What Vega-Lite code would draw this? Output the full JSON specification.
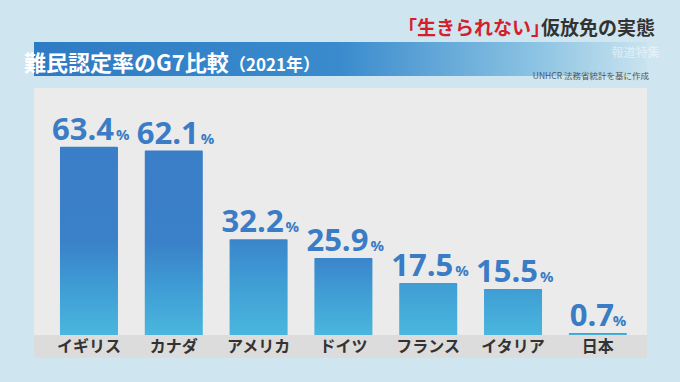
{
  "$schema": "https://vega.github.io/schema/vega-lite/v6.json",
  "width": 613,
  "height": 270,
  "autosize": {"type": "none"},
  "padding": {"left": 34, "top": 88, "right": 33, "bottom": 24},
  "background": "#cfe5ef",
  "config": {"view": {"fill": "#ebebeb", "stroke": null}},
  "data": {
    "values": [
      {"country": "イギリス", "rate": 63.4},
      {"country": "カナダ", "rate": 62.1},
      {"country": "アメリカ", "rate": 32.2},
      {"country": "ドイツ", "rate": 25.9},
      {"country": "フランス", "rate": 17.5},
      {"country": "イタリア", "rate": 15.5},
      {"country": "日本", "rate": 0.7}
    ]
  },
  "encoding": {
    "x": {
      "field": "country", "type": "nominal", "sort": null, "axis": null,
      "scale": {"type": "band", "paddingInner": 0.316, "paddingOuter": 0.272, "align": 0.563}
    },
    "y": {
      "field": "rate", "type": "quantitative", "axis": null,
      "scale": {"domain": [-7.74, 83.16], "nice": false, "zero": false}
    }
  },
  "layer": [
    {
      "mark": {"type": "rect", "color": "#dcdcdc"},
      "encoding": {
        "x": null,
        "y": {"datum": -7.74},
        "y2": {"datum": 0}
      }
    },
    {
      "transform": [{"filter": "datum.rate > 63"}],
      "mark": {
        "type": "rect",
        "color": {
          "gradient": "linear", "x1": 0, "y1": 0, "x2": 1, "y2": 0,
          "stops": [
            {"offset": 0, "color": "#2e7bc4"},
            {"offset": 0.5, "color": "#3a8bcd"},
            {"offset": 0.8, "color": "#86c0e2"},
            {"offset": 1, "color": "#c9e3ef"}
          ]
        }
      },
      "encoding": {
        "x": null,
        "y": {"datum": 98.65},
        "y2": {"datum": 87.2}
      }
    },
    {
      "transform": [{"filter": "datum.rate >= 40"}],
      "mark": {
        "type": "bar", "cornerRadiusTopLeft": 1, "cornerRadiusTopRight": 1,
        "color": {
          "gradient": "linear", "x1": 0, "y1": 0, "x2": 0, "y2": 1,
          "stops": [
            {"offset": 0, "color": "#3a7ec8"},
            {"offset": 0.5, "color": "#3a81c9"},
            {"offset": 0.75, "color": "#3f9dd4"},
            {"offset": 1, "color": "#4ab6de"}
          ]
        }
      },
      "encoding": {"y2": {"datum": 0}}
    },
    {
      "transform": [{"filter": "datum.rate >= 20 && datum.rate < 40"}],
      "mark": {
        "type": "bar", "cornerRadiusTopLeft": 1, "cornerRadiusTopRight": 1,
        "color": {
          "gradient": "linear", "x1": 0, "y1": 0, "x2": 0, "y2": 1,
          "stops": [
            {"offset": 0, "color": "#3b85cb"},
            {"offset": 0.44, "color": "#3f9dd4"},
            {"offset": 1, "color": "#4ab6de"}
          ]
        }
      },
      "encoding": {"y2": {"datum": 0}}
    },
    {
      "transform": [{"filter": "datum.rate < 20"}],
      "mark": {
        "type": "bar", "cornerRadiusTopLeft": 1, "cornerRadiusTopRight": 1,
        "color": {
          "gradient": "linear", "x1": 0, "y1": 0, "x2": 0, "y2": 1,
          "stops": [
            {"offset": 0, "color": "#3f9dd4"},
            {"offset": 1, "color": "#4ab6de"}
          ]
        }
      },
      "encoding": {"y2": {"datum": 0}}
    },
    {
      "mark": {
        "type": "text", "font": "Open Sans", "fontSize": 31, "fontWeight": "bold",
        "color": "#3a7cc5", "align": "center", "baseline": "alphabetic", "dx": -6, "dy": -7
      },
      "encoding": {
        "text": {"field": "rate", "type": "quantitative", "format": ".1f"}
      }
    },
    {
      "transform": [{"filter": "datum.rate >= 10"}],
      "mark": {
        "type": "text", "font": "Open Sans", "fontSize": 15, "fontWeight": "bold",
        "color": "#3a7cc5", "align": "left", "baseline": "alphabetic", "dx": 27, "dy": -7
      },
      "encoding": {"text": {"value": "%"}}
    },
    {
      "transform": [{"filter": "datum.rate < 10"}],
      "mark": {
        "type": "text", "font": "Open Sans", "fontSize": 15, "fontWeight": "bold",
        "color": "#3a7cc5", "align": "left", "baseline": "alphabetic", "dx": 15, "dy": -7
      },
      "encoding": {"text": {"value": "%"}}
    },
    {
      "mark": {
        "type": "text", "font": "Noto Sans CJK JP", "fontSize": 16, "fontWeight": "bold",
        "color": "#333333", "align": "center", "baseline": "middle"
      },
      "encoding": {
        "y": {"datum": -4.0},
        "text": {"field": "country"}
      }
    },
    {
      "transform": [{"filter": "datum.rate > 63"}],
      "mark": {
        "type": "text", "font": "Noto Sans CJK JP", "fontSize": 22, "fontWeight": "bold",
        "color": "white", "align": "left", "baseline": "alphabetic", "dx": -316.5
      },
      "encoding": {
        "x": null,
        "y": {"datum": 89.0},
        "text": {"value": "難民認定率のG7比較"}
      }
    },
    {
      "transform": [{"filter": "datum.rate > 63"}],
      "mark": {
        "type": "text", "font": "Noto Sans CJK JP", "fontSize": 17, "fontWeight": "bold",
        "color": "white", "align": "left", "baseline": "alphabetic", "dx": -111.5
      },
      "encoding": {
        "x": null,
        "y": {"datum": 89.0},
        "text": {"value": "（2021年）"}
      }
    },
    {
      "transform": [{"filter": "datum.rate > 63"}],
      "mark": {
        "type": "text", "font": "Noto Sans CJK JP", "fontSize": 19, "fontWeight": "bold",
        "color": "#d4202a", "align": "right", "baseline": "alphabetic", "dx": 209.5
      },
      "encoding": {
        "x": null,
        "y": {"datum": 101.0},
        "text": {"value": "「生きられない」"}
      }
    },
    {
      "transform": [{"filter": "datum.rate > 63"}],
      "mark": {
        "type": "text", "font": "Noto Sans CJK JP", "fontSize": 19, "fontWeight": "bold",
        "color": "#333333", "align": "right", "baseline": "alphabetic", "dx": 314.5
      },
      "encoding": {
        "x": null,
        "y": {"datum": 101.0},
        "text": {"value": "仮放免の実態"}
      }
    },
    {
      "transform": [{"filter": "datum.rate > 63"}],
      "mark": {
        "type": "text", "font": "Noto Sans CJK JP", "fontSize": 12,
        "color": "#ffffff", "opacity": 0.5, "align": "right", "baseline": "middle", "dx": 319
      },
      "encoding": {
        "x": null,
        "y": {"datum": 95.0},
        "text": {"value": "報道特集"}
      }
    },
    {
      "transform": [{"filter": "datum.rate > 63"}],
      "mark": {
        "type": "text", "font": "Noto Sans CJK JP", "fontSize": 8.5,
        "color": "#555555", "align": "right", "baseline": "middle", "dx": 308.5
      },
      "encoding": {
        "x": null,
        "y": {"datum": 87.2},
        "text": {"value": "UNHCR 法務省統計を基に作成"}
      }
    }
  ]
}
